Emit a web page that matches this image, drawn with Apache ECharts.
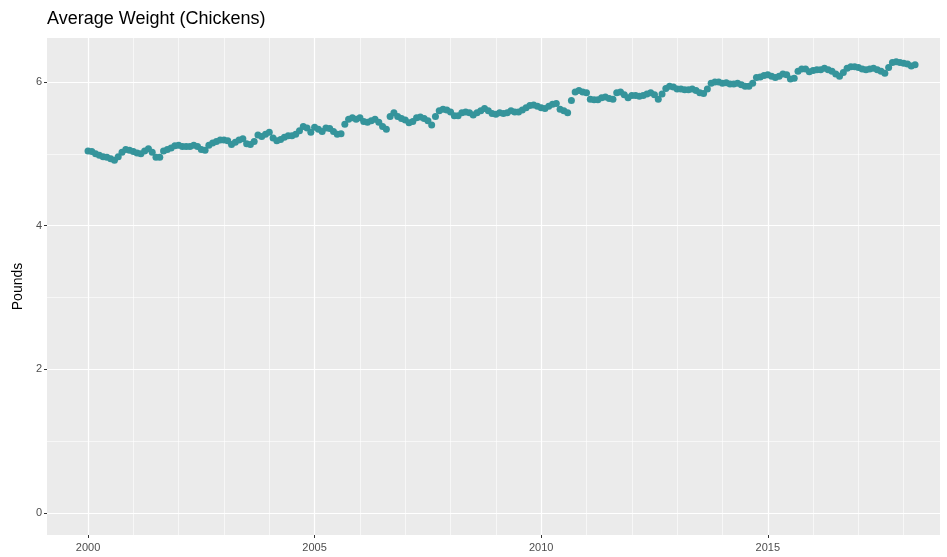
<!DOCTYPE html>
<html>
<head>
<meta charset="utf-8">
<script src="https://cdn.jsdelivr.net/npm/echarts@6/dist/echarts.min.js"></script>
<style>
  html, body { margin: 0; padding: 0; background: #fff; }
  #chart { width: 947px; height: 557px; }
</style>
</head>
<body>
<div id="chart"></div>
<script>
// monthly average weight, starting Jan 2000
var startYear = 2000;
var pounds = [
  5.04, 5.03, 5.00, 4.98, 4.96, 4.95, 4.93, 4.91, 4.96, 5.02, 5.06, 5.05, // 2000
  5.03, 5.01, 5.00, 5.04, 5.07, 5.02, 4.95, 4.95, 5.04, 5.06, 5.08, 5.11, // 2001
  5.12, 5.10, 5.10, 5.10, 5.12, 5.10, 5.06, 5.05, 5.12, 5.15, 5.17, 5.19, // 2002
  5.19, 5.18, 5.13, 5.16, 5.19, 5.21, 5.14, 5.13, 5.17, 5.26, 5.24, 5.27, // 2003
  5.30, 5.22, 5.18, 5.20, 5.23, 5.25, 5.25, 5.27, 5.32, 5.38, 5.36, 5.30, // 2004
  5.37, 5.34, 5.31, 5.36, 5.35, 5.31, 5.27, 5.28, 5.41, 5.48, 5.50, 5.48, // 2005
  5.50, 5.45, 5.44, 5.46, 5.48, 5.44, 5.38, 5.34, 5.52, 5.57, 5.52, 5.49, // 2006
  5.47, 5.43, 5.45, 5.50, 5.51, 5.49, 5.46, 5.40, 5.52, 5.60, 5.62, 5.61, // 2007
  5.58, 5.53, 5.53, 5.57, 5.58, 5.57, 5.54, 5.57, 5.60, 5.63, 5.60, 5.56, // 2008
  5.55, 5.57, 5.56, 5.57, 5.60, 5.58, 5.58, 5.61, 5.64, 5.67, 5.68, 5.66, // 2009
  5.64, 5.63, 5.66, 5.69, 5.70, 5.62, 5.60, 5.57, 5.74, 5.86, 5.88, 5.86, // 2010
  5.85, 5.76, 5.75, 5.75, 5.78, 5.79, 5.77, 5.76, 5.85, 5.86, 5.82, 5.78, // 2011
  5.81, 5.81, 5.80, 5.81, 5.83, 5.85, 5.82, 5.76, 5.83, 5.91, 5.94, 5.93, // 2012
  5.90, 5.90, 5.89, 5.89, 5.90, 5.88, 5.85, 5.84, 5.90, 5.98, 6.00, 6.00, // 2013
  5.98, 5.99, 5.97, 5.97, 5.98, 5.96, 5.94, 5.94, 5.98, 6.06, 6.07, 6.09, // 2014
  6.10, 6.08, 6.06, 6.08, 6.11, 6.10, 6.04, 6.05, 6.15, 6.18, 6.18, 6.14, // 2015
  6.16, 6.17, 6.17, 6.19, 6.17, 6.15, 6.11, 6.08, 6.13, 6.19, 6.21, 6.21, // 2016
  6.20, 6.18, 6.17, 6.18, 6.19, 6.17, 6.15, 6.12, 6.20, 6.27, 6.28, 6.27, // 2017
  6.26, 6.25, 6.22, 6.24                                                  // 2018
];

var xMajor = [2000, 2005, 2010, 2015];
var xMinor = [2000, 2001, 2002, 2003, 2004, 2005, 2006, 2007, 2008, 2009,
              2010, 2011, 2012, 2013, 2014, 2015, 2016, 2017, 2018];
var yMajor = [0, 2, 4, 6];
var yMinor = [1, 3, 5];

var xMin = 1999.095, xMax = 2018.8;
var yMin = -0.305, yMax = 6.611;

var points = [];
for (var i = 0; i < pounds.length; i++) {
  points.push([startYear + i / 12, pounds[i]]);
}

var chart = echarts.init(document.getElementById('chart'), null, { renderer: 'canvas' });

var font = 'Liberation Sans, Arial, sans-serif';

chart.setOption({
  animation: false,
  title: {
    text: 'Average Weight (Chickens)',
    left: 42,
    top: 5,
    textStyle: { fontFamily: font, fontSize: 18, fontWeight: 'normal', color: '#000' }
  },
  grid: {
    left: 47, right: 7, top: 38, bottom: 22,
    outerBoundsMode: 'none',
    containLabel: false,
    show: true, backgroundColor: '#EBEBEB', borderWidth: 0
  },
  xAxis: [{
    // minor grid (every year)
    type: 'value', min: xMin, max: xMax,
    axisLine: { show: false, onZero: false },
    axisTick: { show: false, customValues: xMinor },
    axisLabel: { show: false, customValues: xMinor },
    splitLine: { show: true, lineStyle: { color: '#fff', width: 0.6 } }
  }, {
    // major grid, ticks and labels
    type: 'value', min: xMin, max: xMax, position: 'bottom',
    axisLine: { show: false, onZero: false },
    axisTick: { show: true, length: 3, customValues: xMajor, lineStyle: { color: '#333', width: 1 } },
    axisLabel: {
      customValues: xMajor, margin: 7,
      fontFamily: font, fontSize: 11, color: '#4D4D4D',
      formatter: function (v) { return String(Math.round(v)); }
    },
    splitLine: { show: true, lineStyle: { color: '#fff', width: 1.2 } }
  }],
  yAxis: [{
    type: 'value', min: yMin, max: yMax,
    name: 'Pounds', nameLocation: 'middle', nameGap: 22, nameRotate: 90,
    nameTextStyle: { fontFamily: font, fontSize: 14, color: '#000' },
    axisLine: { show: false, onZero: false },
    axisTick: { show: false, customValues: yMinor },
    axisLabel: { show: false, customValues: yMinor },
    splitLine: { show: true, lineStyle: { color: '#fff', width: 0.6 } }
  }, {
    type: 'value', min: yMin, max: yMax, position: 'left',
    axisLine: { show: false, onZero: false },
    axisTick: { show: true, length: 3, customValues: yMajor, lineStyle: { color: '#333', width: 1 } },
    axisLabel: {
      customValues: yMajor, margin: 5,
      fontFamily: font, fontSize: 11, color: '#4D4D4D',
      formatter: function (v) { return String(Math.round(v)); }
    },
    splitLine: { show: true, lineStyle: { color: '#fff', width: 1.2 } }
  }],
  series: [{
    type: 'scatter',
    xAxisIndex: 0,
    yAxisIndex: 0,
    symbol: 'circle',
    symbolSize: 7,
    itemStyle: { color: '#35949B', opacity: 1 },
    data: points
  }]
});
</script>
</body>
</html>
